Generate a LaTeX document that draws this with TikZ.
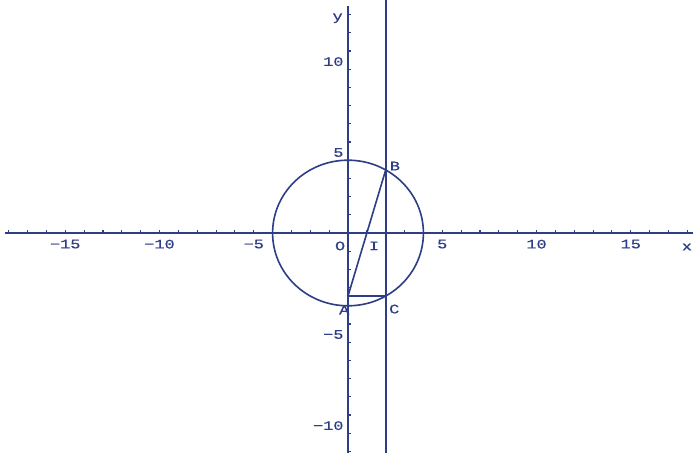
\documentclass[tikz,border=0pt]{standalone}
\usepackage{fontspec}
\newfontfamily\axfont[FakeStretch=1.3,FakeBold=0.6]{Liberation Mono}
\definecolor{ink}{RGB}{45,62,135}
\begin{document}
\begin{tikzpicture}[x=18.85pt,y=18.2pt,line width=1.5pt,color=ink,
  lab/.style={font=\axfont\fontsize{13}{13}\selectfont,text=ink,inner sep=0pt},
  tickline/.style={line width=1.1pt},
  curve/.style={line width=1.6pt}]
\fill[white] (-18.462,-12.088) rectangle (18.408,12.802);
\useasboundingbox (-18.462,-12.088) rectangle (18.408,12.802);
% named points
\coordinate (O) at (0,0);
\coordinate (A) at (0,-3.464);
\coordinate (B) at (2,3.464);
\coordinate (C) at (2,-3.464);
\coordinate (I) at (1,0);
\coordinate (Xl) at (-18.2,0);
\coordinate (Xr) at (18.3,0);
\coordinate (Yt) at (0,12.45);
\coordinate (Yb) at (0,-12.088);
\coordinate (Vt) at (2.03,12.802);
\coordinate (Vb) at (2.03,-12.088);
% axes
\draw (Xl) -- (Xr);
\draw[line width=1.8pt] (Yt) -- (Yb);
\foreach \i in {-18,...,-1,1,2,...,18} \draw[tickline] (\i,0) -- ++(0,0.18);
\foreach \j in {-12,...,-1,1,2,...,12} \draw[tickline] (0,\j) -- ++(0.18,0);
% tick labels
\foreach \v/\t in {-15/{−15},-10/{−10},-5/{−5},5/5,10/10,15/15}
  \node[lab,anchor=north] (xl\v) at (\v,-0.33) {\t};
\foreach \v/\t in {-10/{−10},-5/{−5},5/5,10/10}
  \node[lab,anchor=north east] (yl\v) at (-0.2,\v-0.3) {\t};
\node[lab] (xlab) at (17.98,-0.77) {x};
\node[lab] (ylab) at (-0.55,11.8) {y};
% figure
\draw[curve] (O) circle[x radius=4,y radius=4];
\draw[line width=1.8pt] (Vt) -- (Vb);
\draw[curve] (A) -- (B);
\draw[curve] (A) -- (C);
% point labels
\node[lab] (lO) at (-0.42,-0.71) {O};
\node[lab] (lI) at (1.38,-0.71) {I};
\node[lab] (lB) at (2.49,3.68) {B};
\node[lab] (lC) at (2.45,-4.18) {C};
\node[lab] (lA) at (-0.2,-4.23) {A};
\end{tikzpicture}
\end{document}
